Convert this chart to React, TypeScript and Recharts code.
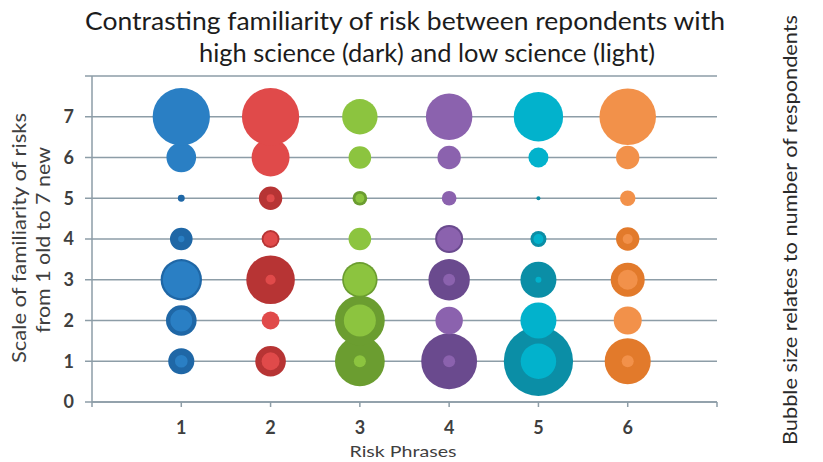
import React from 'react';
import { ScatterChart, Scatter, XAxis, YAxis, ZAxis, CartesianGrid } from 'recharts';

// risk phrases on x, familiarity scale on y, bubble size = respondents
const phrases = [1, 2, 3, 4, 5, 6];
const familiarity = [1, 2, 3, 4, 5, 6, 7];
const xTicks = [0, 1, 2, 3, 4, 5, 6, 7];
const yTicks = [0, 1, 2, 3, 4, 5, 6, 7, 8];

// high science (dark), values for familiarity 1..7
const phrase1High = [8.5, 11.7, 21.4, 6.4, 0.6, 5, 20];
const phrase2High = [11.7, 1.8, 29.5, 4, 6.8, 7, 20];
const phrase3High = [31, 31, 15.7, 3, 2.7, 3, 7];
const phrase4High = [39, 5, 21.4, 9.8, 1.2, 3.2, 16];
const phrase5High = [60, 10, 16.2, 3.2, 0.2, 2.5, 16];
const phrase6High = [26.5, 5, 14.5, 6.8, 1.2, 3.2, 20];

// low science (light)
const phrase1Low = [2, 6, 17, 0.5, 0, 11, 41];
const phrase2Low = [4, 4, 1.3, 2.5, 0.8, 18, 41];
const phrase3Low = [1.8, 12.8, 12.8, 6.4, 1, 6.4, 15.7];
const phrase4Low = [1.8, 9.4, 1.8, 7.2, 2.7, 6.8, 27];
const phrase5Low = [15.7, 16.2, 0.45, 1.25, 0, 5, 30.5];
const phrase6Low = [1.8, 9.8, 5, 1.25, 3, 6.8, 40];

const highSeries = [phrase1High, phrase2High, phrase3High, phrase4High, phrase5High, phrase6High];
const lowSeries = [phrase1Low, phrase2Low, phrase3Low, phrase4Low, phrase5Low, phrase6Low];

const darkColors = ['#1f67a6', '#b73434', '#6b9d30', '#6a4a8e', '#0b8ea6', '#e27a2b'];
const lightColors = ['#2a7fc4', '#e04a4a', '#8cc43f', '#8b62ae', '#02b2cc', '#f2914a'];

const toPoints = (phrase: number, sizes: number[]) =>
  familiarity.map((y, i) => ({ x: phrase, y, z: sizes[i] }));

const FONT = "Lato, 'Liberation Sans', sans-serif";
const AXIS = '#8d9da7';
const TEXT = '#3f3f3f';

export default function App() {
  return (
    <div style={{ position: 'absolute', left: 0, top: 0, width: 823, height: 462, background: '#fff' }}>
      <ScatterChart width={823} height={462} margin={{ top: 76, right: 106, left: 52, bottom: 30 }}>
        <CartesianGrid vertical={false} stroke={AXIS} strokeWidth={1.5} />
        <XAxis
          type="number"
          dataKey="x"
          domain={[0, 7]}
          ticks={xTicks}
          height={30}
          interval={0}
          tickFormatter={(v: number) => (v >= 1 && v <= 6 ? String(v) : '')}
          axisLine={{ stroke: AXIS, strokeWidth: 1.5 }}
          tickLine={{ stroke: AXIS, strokeWidth: 1.5 }}
          tickSize={5}
          tickMargin={14}
          tick={{ fill: TEXT, fontSize: 18, fontWeight: 'bold', fontFamily: FONT }}
        />
        <YAxis
          type="number"
          dataKey="y"
          domain={[0, 8]}
          ticks={yTicks}
          width={40}
          interval={0}
          tickFormatter={(v: number) => (v <= 7 ? String(v) : '')}
          axisLine={{ stroke: AXIS, strokeWidth: 1.5 }}
          tickLine={{ stroke: AXIS, strokeWidth: 1.5 }}
          tickSize={7}
          tickMargin={11}
          tick={{ fill: TEXT, fontSize: 18, fontWeight: 'bold', fontFamily: FONT }}
        />
        <ZAxis type="number" dataKey="z" domain={[0, 60]} range={[0, 3770]} />
        {highSeries.map((sizes, i) => (
          <Scatter
            key={'h' + i}
            data={toPoints(phrases[i], sizes)}
            fill={darkColors[i]}
            isAnimationActive={false}
          />
        ))}
        {lowSeries.map((sizes, i) => (
          <Scatter
            key={'l' + i}
            data={toPoints(phrases[i], sizes)}
            fill={lightColors[i]}
            isAnimationActive={false}
          />
        ))}
      </ScatterChart>
      <svg
        width={823}
        height={462}
        style={{ position: 'absolute', left: 0, top: 0, pointerEvents: 'none' }}
      >
        <text x={405} y={30} textAnchor="middle" fontSize={25} fontFamily={FONT} fill="#1c1c1c"
          textLength={640} lengthAdjust="spacingAndGlyphs">
          Contrasting familiarity of risk between repondents with
        </text>
        <text x={427} y={62} textAnchor="middle" fontSize={25} fontFamily={FONT} fill="#1c1c1c"
          textLength={456} lengthAdjust="spacingAndGlyphs">
          high science (dark) and low science (light)
        </text>
        <text transform="translate(26,238) rotate(-90)" textAnchor="middle" fontSize={19} fontFamily={FONT}
          fill={TEXT} textLength={250} lengthAdjust="spacingAndGlyphs">
          Scale  of familiarity of risks
        </text>
        <text transform="translate(50,240) rotate(-90)" textAnchor="middle" fontSize={19} fontFamily={FONT}
          fill={TEXT} textLength={186} lengthAdjust="spacingAndGlyphs">
          from 1 old to 7 new
        </text>
        <text transform="translate(797,230) rotate(-90)" textAnchor="middle" fontSize={19} fontFamily={FONT}
          fill="#2a2a2a" textLength={430} lengthAdjust="spacingAndGlyphs">
          Bubble size relates to number of respondents
        </text>
        <text x={403} y={457} textAnchor="middle" fontSize={16} fontFamily={FONT} fill={TEXT}
          textLength={107} lengthAdjust="spacingAndGlyphs">
          Risk Phrases
        </text>
      </svg>
    </div>
  );
}
